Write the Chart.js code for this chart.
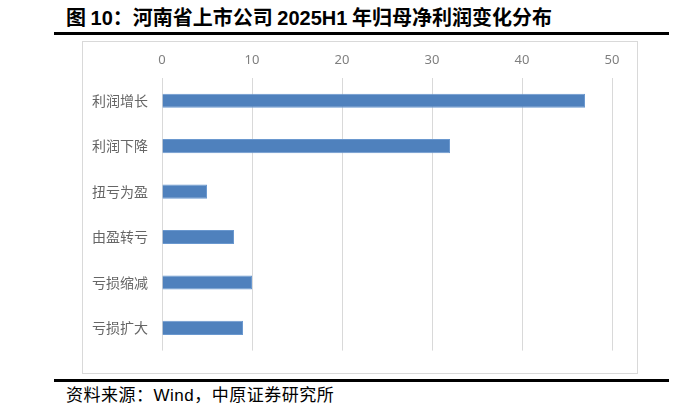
<!DOCTYPE html>
<html>
<head>
<meta charset="utf-8">
<script src="https://cdn.jsdelivr.net/npm/chart.js"></script>
<style>
  body { margin: 0; background: #fff; width: 693px; height: 413px; position: relative; overflow: hidden; }
  .title { position: absolute; left: 66px; top: 5px; line-height: 24px; font: bold 20px/24px "Noto Sans CJK SC", sans-serif; color: #000; white-space: nowrap; }
  .title .num { font-family: "Liberation Sans", Arial, sans-serif; }
  .rule { position: absolute; left: 54px; width: 615px; height: 3px; background: #000; }
  .box { position: absolute; left: 82px; top: 41px; width: 554px; height: 331px; border: 1px solid #d9d9d9; }
  .source { position: absolute; left: 66px; top: 383px; font: 17px/22px "Noto Sans CJK SC", sans-serif; letter-spacing: 0.5px; color: #000; white-space: nowrap; }
  .source .num { font-family: "Liberation Sans", Arial, sans-serif; }
</style>
</head>
<body>
<div class="title">图 <span class="num">10</span>：河南省上市公司 <span class="num">2025H1</span> 年归母净利润变化分布</div>
<div class="rule" style="top:32px"></div>
<div class="box"><canvas id="distChart"></canvas></div>
<div class="rule" style="top:379px"></div>
<div class="source">资料来源：<span class="num">Wind</span>，中原证券研究所</div>
<script>
const categories = ["利润增长", "利润下降", "扭亏为盈", "由盈转亏", "亏损缩减", "亏损扩大"];
const companyCounts = [47, 32, 5, 8, 10, 9];
const xTicks = [0, 10, 20, 30, 40, 50];

const ctx = document.getElementById("distChart");
ctx.width = 554;
ctx.height = 331;

new Chart(ctx, {
  type: "bar",
  data: {
    labels: categories,
    datasets: [
      {
        data: companyCounts,
        backgroundColor: "#4f81bd",
        borderColor: "#6a98cf",
        borderWidth: 1,
        barPercentage: 0.31,
        categoryPercentage: 1.0,
      },
    ],
  },
  options: {
    indexAxis: "y",
    responsive: false,
    animation: false,
    devicePixelRatio: 1,
    layout: { padding: { left: 0, right: 25, top: 0, bottom: 16 } },
    plugins: { legend: { display: false }, tooltip: { enabled: false } },
    scales: {
      x: {
        position: "top",
        min: 0,
        max: 50,
        afterBuildTicks: (scale) => {
          scale.ticks = xTicks.map((v) => ({ value: v }));
        },
        afterFit: (scale) => {
          scale.height = 36;
        },
        grid: { color: "#d9d9d9", lineWidth: 1, drawTicks: false },
        border: { display: false },
        ticks: {
          padding: 10,
          color: "#7f7f7f",
          font: { family: "Noto Sans", size: 13 },
        },
      },
      y: {
        afterFit: (scale) => {
          scale.width = 79;
        },
        grid: { display: false, drawTicks: false },
        border: { display: false },
        ticks: {
          padding: 14,
          color: "#666666",
          font: { family: "Noto Sans CJK SC", size: 14 },
        },
      },
    },
  },
});
</script>
</body>
</html>
